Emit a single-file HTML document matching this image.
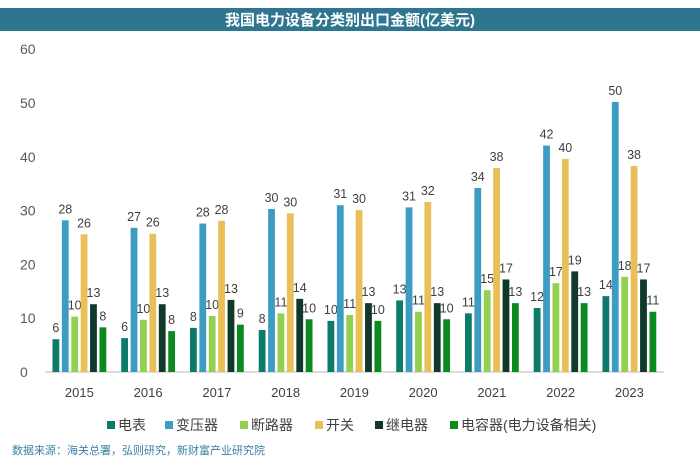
<!DOCTYPE html>
<html><head><meta charset="utf-8"><style>
body{margin:0;background:#fff;width:700px;height:470px;overflow:hidden;font-family:"Liberation Sans","Noto Sans CJK SC",sans-serif}
</style></head><body>
<svg id="c" width="700" height="470" xmlns="http://www.w3.org/2000/svg">
<rect x="0" y="8" width="700" height="23" fill="#2e7590"/>
<text x="350" y="25" text-anchor="middle" font-size="15" font-weight="bold" fill="#fff" font-family="'Liberation Sans','Noto Sans CJK SC',sans-serif">我国电力设备分类别出口金额(亿美元)</text>
<g id="plot"></g>
<text x="12" y="454" font-size="11" fill="#3a80a3" font-family="'Liberation Sans','Noto Sans CJK SC',sans-serif">数据来源：海关总署，弘则研究，新财富产业研究院</text>
</svg>
<script>
const years=["2015","2016","2017","2018","2019","2020","2021","2022","2023"];
const seriesNames=["电表","变压器","断路器","开关","继电器","电容器(电力设备相关)"];
const meter=[6.1,6.3,8.2,7.8,9.5,13.3,10.9,11.9,14.1];
const transformer=[28.2,26.8,27.6,30.3,31.0,30.6,34.2,42.1,50.2];
const breaker=[10.3,9.7,10.4,10.9,10.6,11.2,15.2,16.5,17.7];
const switchgear=[25.6,25.7,28.1,29.5,30.1,31.6,37.9,39.6,38.3];
const relay=[12.6,12.6,13.4,13.6,12.8,12.8,17.2,18.7,17.2];
const capacitor=[8.3,7.6,8.8,9.8,9.5,9.8,12.8,12.8,11.2];
const yTicks=[0,10,20,30,40,50,60];
const colors=["#0e7a6a","#3d9cc1","#92d050","#e9c058","#10392b","#0a8a1f"];
const series=[meter,transformer,breaker,switchgear,relay,capacitor];
const NS="http://www.w3.org/2000/svg";
const g=document.getElementById("plot");
const y0=372,pxPer=5.38,x0=45,groupW=68.75,barW=6.8,step=9.4;
const yS=v=>y0-v*pxPer;
const gc=i=>x0+groupW*(i+0.5);
function mk(t,a){const e=document.createElementNS(NS,t);for(const k in a)e.setAttribute(k,a[k]);g.appendChild(e);return e;}
yTicks.forEach(t=>{
 const e=mk("text",{x:20,y:yS(t)+5,"font-size":14,fill:"#595959","text-anchor":"start"});
 e.textContent=t;
 
 
});
const ax=mk("line",{x1:x0,x2:x0+groupW*years.length,y1:y0,y2:y0,stroke:"#d0d0d0","stroke-width":1.5});


years.forEach((yr,i)=>{
 const e=mk("text",{x:gc(i),y:397,"font-size":13,fill:"#404040","text-anchor":"middle"});
 e.textContent=yr;
 
 
 series.forEach((s,j)=>{
  const x=gc(i)-(step*5+barW)/2+j*step;
  const r=mk("rect",{x:x,y:yS(s[i]),width:barW,height:s[i]*pxPer,fill:colors[j]});
  
  
  const l=mk("text",{x:x+barW/2,y:yS(s[i])-7,"font-size":12.5,fill:"#404040","text-anchor":"middle"});
  l.textContent=Math.round(s[i]);
  
  
 });
});
let lx=107;
const lw=[58,75,75,60,75,0];
seriesNames.forEach((n,j)=>{
 const r=mk("rect",{x:lx,y:421,width:8,height:8,fill:colors[j]});
 
 
 const t=mk("text",{x:lx+11,y:430,"font-size":14,fill:"#404040","font-family":"'Liberation Sans','Noto Sans CJK SC',sans-serif"});
 t.textContent=n;
 
 
 lx+=lw[j];
});
</script>
</body></html>
